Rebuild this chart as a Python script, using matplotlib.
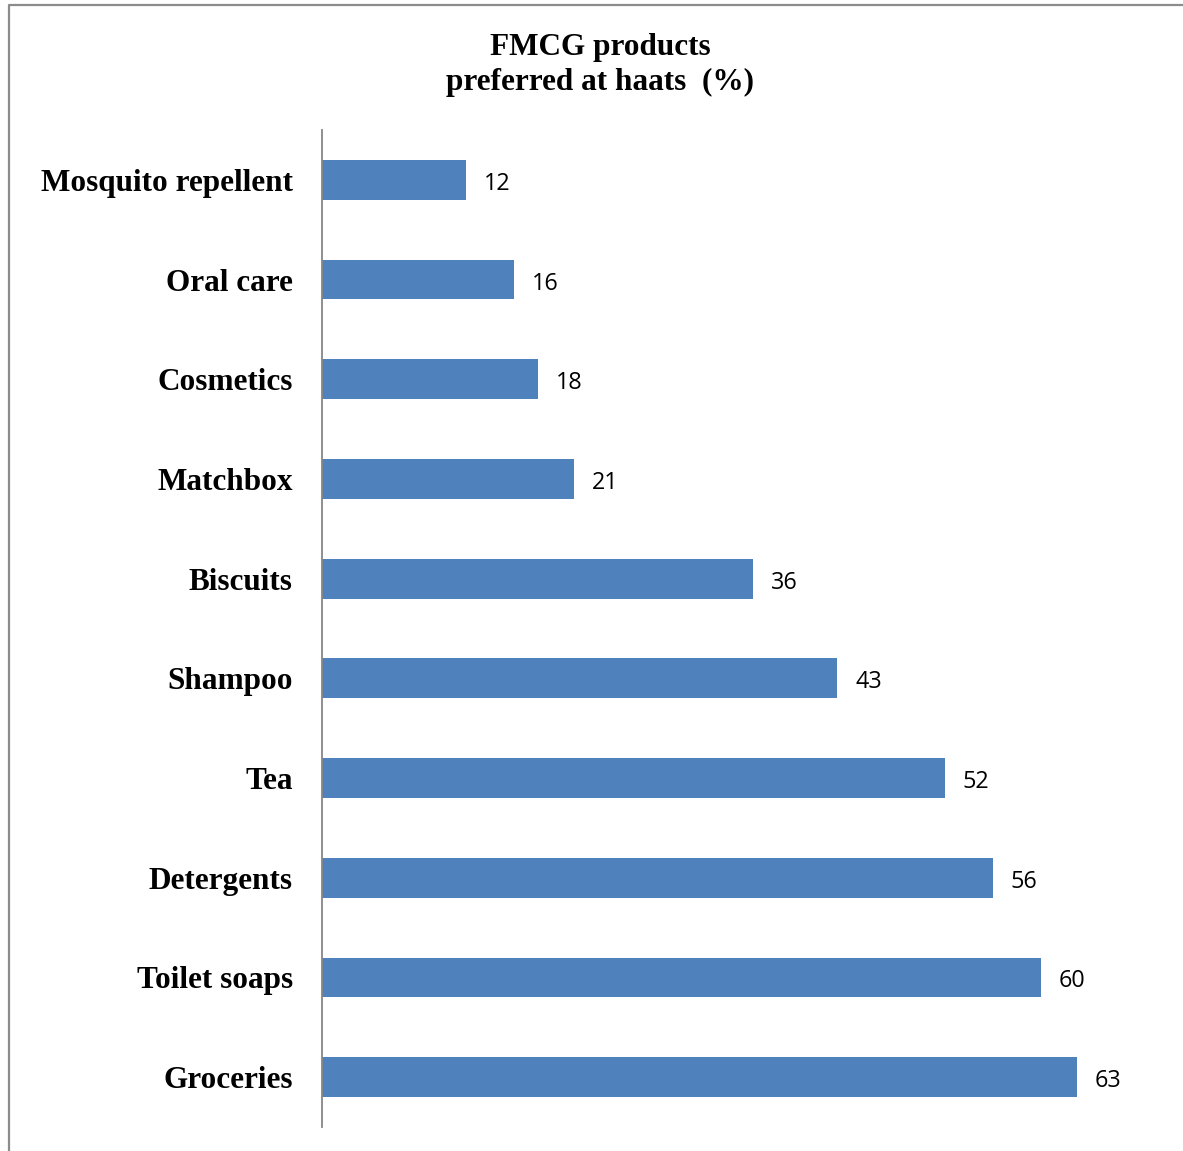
import matplotlib.pyplot as plt
from matplotlib.lines import Line2D

products = ['Mosquito repellent', 'Oral care', 'Cosmetics', 'Matchbox', 'Biscuits',
            'Shampoo', 'Tea', 'Detergents', 'Toilet soaps', 'Groceries']
share = [12, 16, 18, 21, 36, 43, 52, 56, 60, 63]

W, H = 1183, 1151


def main():
    fig = plt.figure(figsize=(W / 100, H / 100), dpi=100)
    ax = fig.add_axes([322 / W, 1 - 1127 / H, 838.6 / W, 997 / H])

    y_pos = list(range(len(products)))
    ax.barh(y_pos, share, height=0.4, color='#4F81BD')
    ax.set_xlim(0, 70)
    ax.set_ylim(len(products) - 0.5, -0.5)

    ax.set_yticks(y_pos)
    ax.set_yticklabels(products, family='Liberation Serif', fontweight='bold', fontsize=22.5)
    ax.tick_params(axis='y', length=0, pad=21)
    ax.set_xticks([])

    for s in ['top', 'right', 'bottom']:
        ax.spines[s].set_visible(False)
    ax.spines['left'].set_color('#868686')
    ax.spines['left'].set_linewidth(1.3)

    for y, v in zip(y_pos, share):
        ax.text(v + 1.5, y + 0.04, str(v), va='center', ha='left',
                family='Open Sans', fontsize=16.8, color='black')

    fig.text(600 / W, 1 - 65 / H, 'FMCG products\npreferred at haats  (%)',
             ha='center', va='center', family='Liberation Serif',
             fontweight='bold', fontsize=22.5, linespacing=1.25)

    # outer frame, only the left and top edges are in view
    fig.add_artist(Line2D([9 / W, 9 / W, 1.0], [0.0, 1 - 5 / H, 1 - 5 / H],
                          transform=fig.transFigure, color='#8c8c8c', lw=1.6))

    fig.savefig('out.png', dpi=100, facecolor='white')


if __name__ == "__main__":
    main()
